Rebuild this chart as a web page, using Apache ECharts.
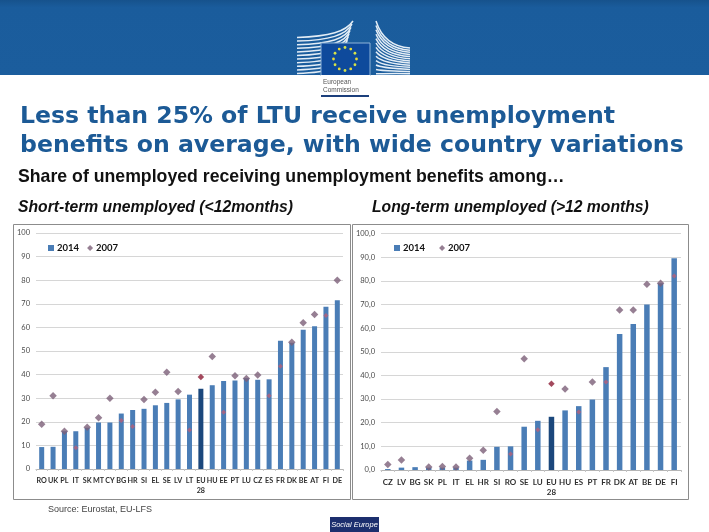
<!DOCTYPE html>
<html><head><meta charset="utf-8">
<style>html,body{margin:0;padding:0;background:#fff}#c{width:709px;height:532px}</style>
<script src="https://cdn.jsdelivr.net/npm/echarts@6/dist/echarts.min.js"></script>
</head><body><div id="c"></div>
<script>
const shortCategories=['RO','UK','PL','IT','SK','MT','CY','BG','HR','SI','EL','SE','LV','LT','EU\n28','HU','EE','PT','LU','CZ','ES','FR','DK','BE','AT','FI','DE'];
const short2014=[9.3,9.4,16,16,17.5,19.7,19.7,23.5,25,25.5,27,28,29.5,31.5,34,35.5,37.3,37.5,38.5,37.8,38,54.3,53.5,59,60.5,68.8,71.5];
const short2007=[19,31,16,9,17.7,21.7,30,20.5,18,29.5,32.5,41,32.8,16.5,39,47.7,24,39.5,38.3,39.8,31,43.5,53.7,62,65.5,65,80];
const longCategories=['CZ','LV','BG','SK','PL','IT','EL','HR','SI','RO','SE','LU','EU\n28','HU','ES','PT','FR','DK','AT','BE','DE','FI'];
const long2014=[0.4,1,1.2,1,1,1,4,4.3,9.8,10,18.3,20.8,22.5,25.2,27,29.8,43.5,57.5,61.7,70,79,89.5];
const long2007=[2.3,4.2,null,1.3,1.5,1.3,5,8.3,24.7,6.8,47,17,36.5,34.2,24.5,37.2,37.2,67.7,67.7,78.5,79,82];

const BAR='#4a7db6',EUBAR='#1b477c',DIA='#7c5f78',DIAIN='#b4607a',EUDIA='#8c1c34';
const F='Lato, "Open Sans", sans-serif', A='"Liberation Sans", Arial, sans-serif';

function barData(vals,cats){return vals.map((v,i)=>({value:v,itemStyle:{color:cats[i].startsWith('EU')?EUBAR:BAR}}));}
function dotData(vals,bars,cats){return vals.map((v,i)=>{
  if(v===null) return {value:null};
  const eu=cats[i].startsWith('EU'), inside=v<bars[i]-0.5;
  return {value:v,symbolSize:eu?6.5:(inside?5:7.5),itemStyle:{color:eu?EUDIA:(inside?DIAIN:DIA)}};
});}
function xAxis(g,cats,size){return {type:'category',gridIndex:g,data:cats,
  axisLine:{lineStyle:{color:'#b5b5b5',width:1}},axisTick:{show:true,length:2,lineStyle:{color:'#c5c5c5'}},
  axisLabel:{color:'#2f2f2f',fontFamily:F,fontWeight:'bold',fontSize:size,interval:0,margin:7,lineHeight:10}};}
function yAxis(g,dec){return {type:'value',gridIndex:g,min:0,max:100,interval:10,
  axisLine:{show:false},axisTick:{show:false},
  splitLine:{lineStyle:{color:'#d6d6d6',width:1}},
  axisLabel:{color:'#4a4a4a',fontFamily:F,fontSize:7.5,margin:6,formatter:v=>dec?v.toFixed(1).replace('.',','):String(v)}};}
function legend(left,idx){return {left:left,top:243,orient:'horizontal',itemGap:idx?14:8,itemWidth:6,itemHeight:6,
  data:[{name:'2014',icon:'rect',itemStyle:{color:BAR}},{name:'2007',icon:'diamond',itemStyle:{color:DIA}}],
  selectedMode:false,textStyle:{color:'#111',fontFamily:F,fontWeight:'bold',fontSize:9.5,padding:[0,0,0,-2]},padding:0};}

const g=[];
g.push({type:'rect',z:1,shape:{x:0,y:0,width:709,height:75},style:{fill:new echarts.graphic.LinearGradient(0,0,0,1,[{offset:0,color:'#16528c'},{offset:.1,color:'#1a5c9c'},{offset:1,color:'#1b5d9d'}])}});
for(let i=0;i<11;i++){const y=37.5+i*3.6;
  g.push({type:'bezierCurve',z:2,shape:{x1:297,y1:y,x2:353-i*1.0,y2:21+i*3.2,cpx1:330,cpy1:y-1,cpx2:346,cpy2:y-6},style:{stroke:'#e3edf6',lineWidth:1.5,fill:'none'}});
}
for(let i=0;i<13;i++){const a=21+i*4.4,b=48+i*2.15;
  g.push({type:'bezierCurve',z:2,shape:{x1:376,y1:a,x2:410,y2:b,cpx1:382,cpy1:a+(b-a)*.7,cpx2:396,cpy2:b-1},style:{stroke:'#e3edf6',lineWidth:1.5,fill:'none'}});
}
g.push({type:'rect',z:3,shape:{x:321,y:43,width:49,height:33},style:{fill:'#0e4a9c',stroke:'#8fb4d8',lineWidth:1}});
for(let i=0;i<12;i++){const t=i*Math.PI/6;
  g.push({type:'circle',z:4,shape:{cx:345+Math.sin(t)*11.5,cy:59-Math.cos(t)*11.5,r:1.4},style:{fill:i%2?'#e6d93a':'#d4e24a'}});
}
g.push({type:'rect',z:3,shape:{x:321,y:75,width:49,height:22},style:{fill:'#fff'}});
g.push({type:'text',z:4,style:{x:323,y:78,text:'European\nCommission',fill:'#555',font:'6.5px '+A,lineHeight:8}});
g.push({type:'rect',z:4,shape:{x:321,y:95,width:48,height:2},style:{fill:'#1c3f7c'}});
g.push({type:'text',z:5,style:{x:20,y:105,text:'Less than 25% of LTU receive unemployment',fill:'#1c5a96',font:'bold 23.6px "DejaVu Sans", Verdana, sans-serif'}});
g.push({type:'text',z:5,style:{x:20,y:134,text:'benefits on average, with wide country variations',fill:'#1c5a96',font:'bold 23.6px "DejaVu Sans", Verdana, sans-serif'}});
g.push({type:'text',z:5,style:{x:18,y:168,text:'Share of unemployed receiving unemployment benefits among…',fill:'#111',font:'bold 17.7px '+A}});
g.push({type:'text',z:5,style:{x:18,y:200,text:'Short-term unemployed (<12months)',fill:'#111',font:'italic bold 15.7px '+A}});
g.push({type:'text',z:5,style:{x:372,y:200,text:'Long-term unemployed (>12 months)',fill:'#111',font:'italic bold 15.7px '+A}});
g.push({type:'rect',z:0,shape:{x:13.5,y:224.5,width:337,height:275},style:{fill:'#fff',stroke:'#8c8c8c',lineWidth:1}});
g.push({type:'rect',z:0,shape:{x:352.5,y:224.5,width:336,height:275},style:{fill:'#fff',stroke:'#8c8c8c',lineWidth:1}});
g.push({type:'text',z:5,style:{x:48,y:505,text:'Source: Eurostat, EU-LFS',fill:'#444',font:'9px '+A}});
g.push({type:'rect',z:5,shape:{x:330,y:517,width:49,height:15},style:{fill:'#1c2f6e'}});
g.push({type:'text',z:6,style:{x:354.5,y:524.5,text:'Social Europe',fill:'#fff',align:'center',verticalAlign:'middle',font:'italic 7.5px '+A}});

const chart=echarts.init(document.getElementById('c'),null,{renderer:'canvas'});
chart.setOption({
  animation:false,backgroundColor:'#fff',
  graphic:{elements:g},
  legend:[legend(48,0),legend(394,1)],
  grid:[{left:36,top:233,width:307,height:236},{left:381,top:233.5,width:300,height:236.5}],
  xAxis:[xAxis(0,shortCategories,7.2),xAxis(1,longCategories,8)],
  yAxis:[yAxis(0,false),yAxis(1,true)],
  series:[
    {name:'2014',type:'bar',xAxisIndex:0,yAxisIndex:0,barWidth:5,data:barData(short2014,shortCategories),z:2},
    {name:'2007',type:'scatter',xAxisIndex:0,yAxisIndex:0,symbol:'diamond',data:dotData(short2007,short2014,shortCategories),z:3},
    {name:'2014',type:'bar',xAxisIndex:1,yAxisIndex:1,barWidth:5.5,data:barData(long2014,longCategories),z:2},
    {name:'2007',type:'scatter',xAxisIndex:1,yAxisIndex:1,symbol:'diamond',data:dotData(long2007,long2014,longCategories),z:3}
  ]
});
</script></body></html>
